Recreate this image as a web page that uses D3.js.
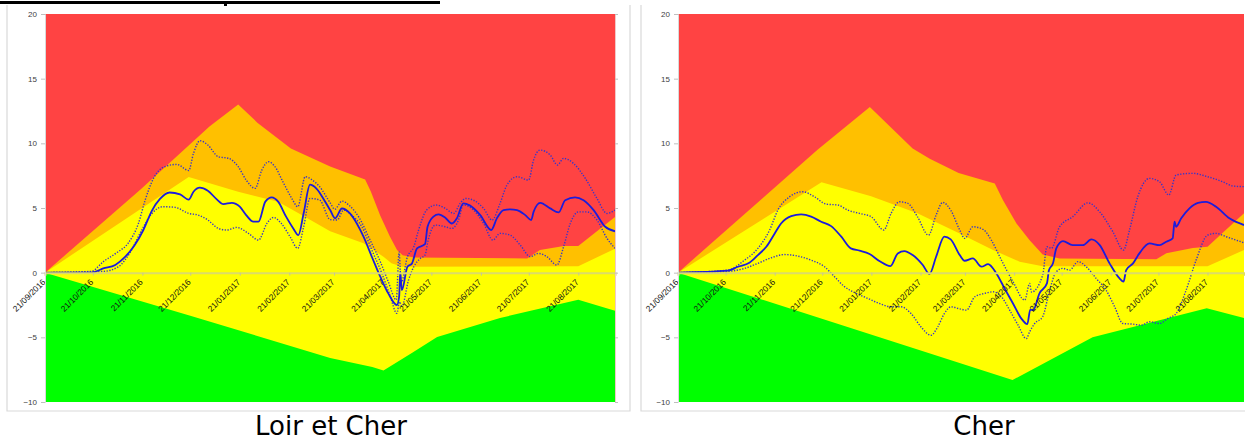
<!DOCTYPE html>
<html>
<head>
<meta charset="utf-8">
<script src="https://cdn.jsdelivr.net/npm/d3@7"></script>
<style>
  body { margin: 0; background: #fff; }
  svg { display: block; }
</style>
</head>
<body>
<div id="chart"></div>
<script>
// month ticks of the x axis
var monthTicks = ["21/09/2016", "21/10/2016", "21/11/2016", "21/12/2016", "21/01/2017", "21/02/2017",
                  "21/03/2017", "21/04/2017", "21/05/2017", "21/06/2017", "21/07/2017", "21/08/2017"];
var yTicks = [-10, -5, 0, 5, 10, 15, 20];
var startDate = "21/09/2016";
var lastDay = 357; // days after startDate shown on the axis

// every series: [days after 21/09/2016, value]
// --- Loir et Cher
var loirOrangeTop = [[0,0],[60,6.45],[103,11.3],[121,13],[133,11.6],[154,9.6],[178.6,8.2],[200.5,7.2],[204,6.3],
  [210,4.4],[216,2.8],[220.5,1.75],[224,1.35],[231,1.18],[302,1.1],[310,1.75],[325,2.06],[334,2.06],[357,4.3]];
var loirYellowTop = [[0,0],[90,7.4],[121,6.26],[146,5.49],[163,4.3],[178.6,3.2],[199.5,2.27],[212,1.23],
  [217,0.72],[223.5,0.46],[334,0.5],[357,1.85]];
var loirGreenTop = [[0,0],[91,-3.33],[178.6,-6.6],[205,-7.3],[212,-7.56],[230,-6.2],[245.6,-4.97],[285,-3.5],
  [334,-2.1],[357,-2.95]];
var loirMain = [[0,0],[29,0],[36.5,0.33],[44,0.6],[50,1.2],[56,2.1],[61.6,3.3],[67,4.8],[72,5.7],[78,6.2],
  [84.6,6.05],[90,5.65],[93,6.26],[97,6.57],[102,6.33],[107.6,5.67],[111.7,5.3],[117,5.4],[122,5.1],[126,4.45],
  [130.5,3.94],[133.7,3.94],[138,5.49],[142,5.82],[146,5.49],[151,4.33],[155.6,3.4],[158.7,2.9],[162,4.6],
  [166,6.8],[170,6.5],[175.4,5.5],[178.6,4.84],[181.7,4.2],[186,4.96],[191,4.58],[195.3,3.8],[199.5,2.78],
  [204.7,1.23],[210,-0.31],[215,-1.6],[220.4,-2.5],[221.8,-1.86],[222.5,0.07],[223.5,-1.35],[227,0.46],
  [229.8,0.7],[233,1.88],[238,2.2],[239.6,3.55],[243.3,4.33],[246.5,4.5],[250.7,4.25],[254.8,3.8],[258,4.2],
  [262,5.36],[266,5.2],[272.6,4.45],[279.5,3.3],[283,4.2],[287.2,4.84],[291.4,4.9],[295.6,4.84],[300.8,4.45],
  [304.5,4.07],[306,4.7],[310.2,5.4],[316.4,4.97],[321.7,4.66],[325.8,5.6],[332,5.82],[337.3,5.6],
  [343.6,4.84],[350.9,3.55],[357,3.2]];
var loirUpper = [[0,0],[29,0.1],[36.5,0.85],[45,1.55],[52,2.27],[58.5,3.8],[62.7,5.6],[68,7.3],[75,8.2],
  [82.5,8.37],[90,7.9],[93,9.22],[97,10.2],[102,9.87],[108.6,8.96],[115,8.84],[121,8.2],[126,7.16],
  [131.6,6.52],[135.8,7.93],[140,8.58],[144,8.2],[149,7.03],[154.6,5.74],[158.3,5.1],[163,7.42],[167,7.2],
  [172,6.65],[178.6,5.4],[181.5,4.9],[186,5.53],[191,5.15],[197,4.2],[203.7,2.5],[210,0.85],[215,-0.7],
  [220,-2.1],[221.8,1.6],[223,-0.8],[227,1.23],[231,2.0],[234,3.3],[239,4.84],[245,5.23],[250.7,4.97],
  [256,4.58],[260,5.36],[263.5,5.74],[268.4,5.6],[274.7,4.97],[280,4.07],[285,5.36],[289.3,6.77],
  [295.6,7.42],[302.9,7.16],[306,8.7],[310,9.48],[316.4,9.1],[321,8.32],[324.8,8.84],[331,8.45],
  [338.4,7.29],[345.7,5.74],[352,4.58],[357,4.84]];
var loirLower = [[0,0],[36.5,0.1],[46,0.46],[53,1.5],[60.6,3.3],[67,4.58],[74,5.1],[81.5,5.05],[90,4.58],
  [96,4.45],[102,4.07],[108.6,3.42],[113.8,3.3],[120,3.5],[127.4,3.04],[133.7,2.52],[139,3.81],[143,4.27],
  [148,3.81],[153.5,2.78],[158.3,1.88],[162,3.55],[166,5.74],[172,5.62],[178.6,4.1],[183,4.07],[187,4.84],
  [192,4.45],[198.4,3.55],[204.7,1.75],[211,-0.06],[216,-1.73],[220.4,-3.15],[222,-2.25],[223.5,-2.6],
  [227.7,-0.57],[231,0.46],[235,1.1],[238,1.36],[240,2.52],[244.4,3.68],[250.7,3.55],[254.8,3.42],[259,4.07],
  [262,5.23],[268.4,4.84],[274.7,3.81],[280.5,2.52],[285,3.04],[291.4,2.9],[297.6,2.14],[304,1.23],
  [309,1.49],[314.4,1.23],[320.6,0.59],[324.8,2.0],[329,3.81],[334,4.7],[339.4,4.7],[345.7,4.07],
  [352,2.65],[357,1.88]];

// --- Cher
var cherOrangeTop = [[0,0],[88,9.5],[121,12.8],[148,9.6],[158.8,8.8],[177,7.7],[199.8,6.9],[205,5.6],
  [213.5,3.8],[221.8,2.5],[230,1.4],[240.7,1.1],[301.7,1.03],[308,1.5],[324.7,1.9],[334,2.0],[357,4.6]];
var cherYellowTop = [[0,0],[90.5,7.0],[121.8,5.9],[151,4.6],[178,3.0],[198.7,1.75],[215.5,0.85],[230,0.5],
  [334,0.5],[357,1.75]];
var cherGreenTop = [[0,0],[211,-8.3],[261.5,-5.0],[333.5,-2.75],[357,-3.5]];
var cherMain = [[0,0],[31.5,0.15],[37.8,0.46],[45,0.77],[50.4,1.36],[55.7,2.0],[61,3.03],[65,3.8],[71.4,4.37],
  [77.7,4.5],[84,4.33],[90.3,3.94],[96.6,3.6],[103,2.78],[109,1.88],[114.5,1.7],[120.8,1.44],[127,0.9],
  [134,0.51],[138.6,1.49],[142.8,1.67],[148,1.36],[154.4,0.59],[158.6,-0.1],[162.8,1.23],[168,2.78],
  [172,2.57],[177.7,1.36],[180.8,0.92],[186,1.1],[191.4,0.46],[195.6,0.66],[200.8,-0.06],[206,-1.22],
  [211.3,-2.38],[216.6,-3.55],[220.3,-3.98],[222.2,-2.85],[224,-2.9],[228,-1.6],[232.7,-0.83],[234,0.2],
  [236.5,0.72],[238.6,1.88],[242.8,2.44],[249,2.13],[255.4,2.13],[260.7,2.57],[266,2.13],[272.2,0.72],
  [278.5,-0.45],[281,-0.7],[282.7,0.2],[287,0.72],[291,1.49],[297.4,2.26],[303.7,2.13],[308,2.39],
  [312,2.65],[313.2,3.94],[314.2,3.55],[317.4,4.2],[322.6,4.97],[328,5.4],[333,5.48],[339.4,5.1],
  [347.8,4.2],[357,3.68]];
var cherUpper = [[0,0],[31.5,0.2],[42,0.97],[50.4,1.88],[57.8,3.3],[63,4.84],[70.4,5.87],[78.8,6.26],[86,5.87],
  [93.5,5.3],[100.8,5.23],[107,4.84],[114.5,4.58],[121.8,4.33],[129.8,3.3],[134.4,4.58],[139.7,5.48],
  [145,5.36],[151,4.33],[158,2.9],[162.8,4.45],[167,5.43],[172,4.84],[177.7,3.3],[180.8,2.65],[186,3.55],
  [192.4,3.35],[197.6,2.52],[204,0.97],[211.3,-0.7],[218.7,-2.12],[221.8,-0.83],[223,-1.5],[230,-0.2],
  [232.7,2.0],[235.5,1.88],[240.7,3.55],[249,4.33],[258.6,5.4],[266,4.7],[274.3,3.16],[281,1.75],
  [284.8,3.3],[290,5.87],[297.4,7.29],[303.7,7.03],[309.6,6.0],[314.2,7.55],[324.7,7.68],[334,7.42],
  [343.6,7.03],[350,6.7],[357,6.65]];
var cherLower = [[0,0],[31.5,0.1],[42,0.33],[50.4,0.72],[58.8,1.15],[67,1.4],[75.6,1.28],[84,0.97],[92.4,0.46],
  [98.7,-0.31],[105,-1.08],[112.4,-1.6],[119.7,-1.99],[127,-2.38],[134.4,-2.64],[140.7,-2.64],[147,-3.16],
  [153.3,-4.2],[159.6,-4.84],[163.8,-4.2],[168,-3.16],[172.2,-2.64],[177.7,-2.8],[182,-2.9],[187.2,-1.86],
  [193.5,-1.6],[198.7,-1.48],[204,-1.86],[209.2,-2.9],[214.5,-4.06],[219.7,-5.1],[221.8,-4.57],[225,-3.93],
  [230,-3.41],[234.4,-1.35],[238.6,0.07],[242.8,0.33],[247,0.2],[252.3,0.85],[257.5,0.46],[263.8,-0.45],
  [270,-1.35],[275.4,-2.64],[280.6,-3.93],[287,-3.98],[292.2,-4.06],[297.4,-3.8],[303.7,-3.93],[309,-3.54],
  [314.2,-3.16],[320.5,-1.35],[326.8,0.97],[334,2.9],[339.4,3.04],[345.7,2.78],[352,2.52],[357,2.31]];

var panels = [
  { name: "Loir et Cher", left: 45, right: 615, frameL: 7, frameR: 630, titleX: 331,
    orange: loirOrangeTop, yellow: loirYellowTop, green: loirGreenTop,
    main: loirMain, upper: loirUpper, lower: loirLower, rightTicks: true },
  { name: "Cher", left: 678, right: 1244, frameL: 641, frameR: 1246, titleX: 984,
    orange: cherOrangeTop, yellow: cherYellowTop, green: cherGreenTop,
    main: cherMain, upper: cherUpper, lower: cherLower, rightTicks: false }
];

var Width = 1245, Height = 441;
var parse = d3.timeParse("%d/%m/%Y");
var start = parse(startDate);
var dayToDate = d => new Date(start.getTime() + d * 864e5);

var svg = d3.select("#chart").append("svg")
  .attr("width", Width)
  .attr("height", Height);

// bits of the page above the charts
svg.append("rect").attr("x", 0).attr("y", 1).attr("width", 440).attr("height", 3).attr("fill", "#000");
svg.append("rect").attr("x", 224).attr("y", 3).attr("width", 3).attr("height", 3).attr("fill", "#000");

var yScale = d3.scaleLinear().domain([-10, 20]).range([402, 14]);
var smallFont = "Liberation Sans, Arial, sans-serif";

panels.forEach((p, pi) => {
  var x = d3.scaleTime()
    .domain([start, dayToDate(lastDay)])
    .range([p.left, p.right]);

  var g = svg.append("g");

  // chart frame
  g.append("path")
    .attr("d", `M${p.frameL},5V411H${p.frameR}` + (pi === 0 ? "V5" : ""))
    .attr("fill", "none")
    .attr("stroke", "#d9d9d9")
    .attr("stroke-width", 1.2);

  var clipId = "clip" + pi;
  g.append("clipPath").attr("id", clipId)
    .append("rect")
    .attr("x", p.left).attr("y", yScale(20))
    .attr("width", p.right - p.left).attr("height", yScale(-10) - yScale(20));

  var plot = g.append("g").attr("clip-path", `url(#${clipId})`);

  // red background
  plot.append("rect")
    .attr("x", p.left).attr("y", yScale(20))
    .attr("width", p.right - p.left).attr("height", yScale(-10) - yScale(20))
    .attr("fill", "#ff4343");

  var zone = d3.area()
    .x(d => x(dayToDate(d[0])))
    .y0(yScale(-10))
    .y1(d => yScale(d[1]));

  [[p.orange, "#ffc000"], [p.yellow, "#ffff00"], [p.green, "#00ff00"]].forEach(z => {
    plot.append("path").datum(z[0]).attr("d", zone).attr("fill", z[1]);
  });

  // x axis on the zero line
  var xAxis = d3.axisBottom(x)
    .tickValues(monthTicks.map(parse))
    .tickSize(3)
    .tickFormat("");
  var xa = g.append("g").attr("transform", `translate(0,${yScale(0)})`).call(xAxis);
  xa.select(".domain").attr("stroke", "#dcdc6a").attr("stroke-width", 2);
  xa.selectAll(".tick line").attr("stroke", "#c8c890");

  g.append("g").selectAll("text")
    .data(monthTicks)
    .enter()
    .append("text")
    .attr("transform", d => `translate(${x(parse(d)) + 1},${yScale(0) + 10}) rotate(-45)`)
    .attr("text-anchor", "end")
    .attr("font-family", smallFont)
    .attr("font-size", 8.4)
    .attr("fill", "#111")
    .text(d => d);

  // y axis
  var yAxis = d3.axisLeft(yScale).tickValues(yTicks).tickSize(4).tickPadding(4);
  var ya = g.append("g").attr("transform", `translate(${p.left},0)`).call(yAxis);
  ya.select(".domain").attr("stroke", "#d9d9d9");
  ya.selectAll(".tick line").attr("stroke", "#bfbfbf");
  ya.selectAll("text")
    .attr("font-family", smallFont)
    .attr("font-size", 8)
    .attr("fill", "#404040");

  if (p.rightTicks) {
    var ra = g.append("g").attr("transform", `translate(${p.right},0)`)
      .call(d3.axisRight(yScale).tickValues(yTicks).tickSize(3).tickFormat(""));
    ra.select(".domain").attr("stroke", "#f0c8c8");
    ra.selectAll(".tick line").attr("stroke", "#bfbfbf");
  }

  // the three lines
  var line = d3.line()
    .x(d => x(dayToDate(d[0])))
    .y(d => yScale(d[1]))
    .curve(d3.curveMonotoneX);

  [p.upper, p.lower].forEach(s => {
    plot.append("path").datum(s)
      .attr("d", line)
      .attr("fill", "none")
      .attr("stroke", "#3535cc")
      .attr("stroke-width", 1.4)
      .attr("stroke-dasharray", "1.3 1.5");
  });

  plot.append("path").datum(p.main)
    .attr("d", line)
    .attr("fill", "none")
    .attr("stroke", "#1c1cdc")
    .attr("stroke-width", 1.8);

  // panel title
  svg.append("text")
    .attr("x", p.titleX)
    .attr("y", 435)
    .attr("text-anchor", "middle")
    .attr("font-family", "DejaVu Sans, Verdana, sans-serif")
    .attr("font-size", 26)
    .attr("fill", "#000")
    .text(p.name);
});
</script>
</body>
</html>
